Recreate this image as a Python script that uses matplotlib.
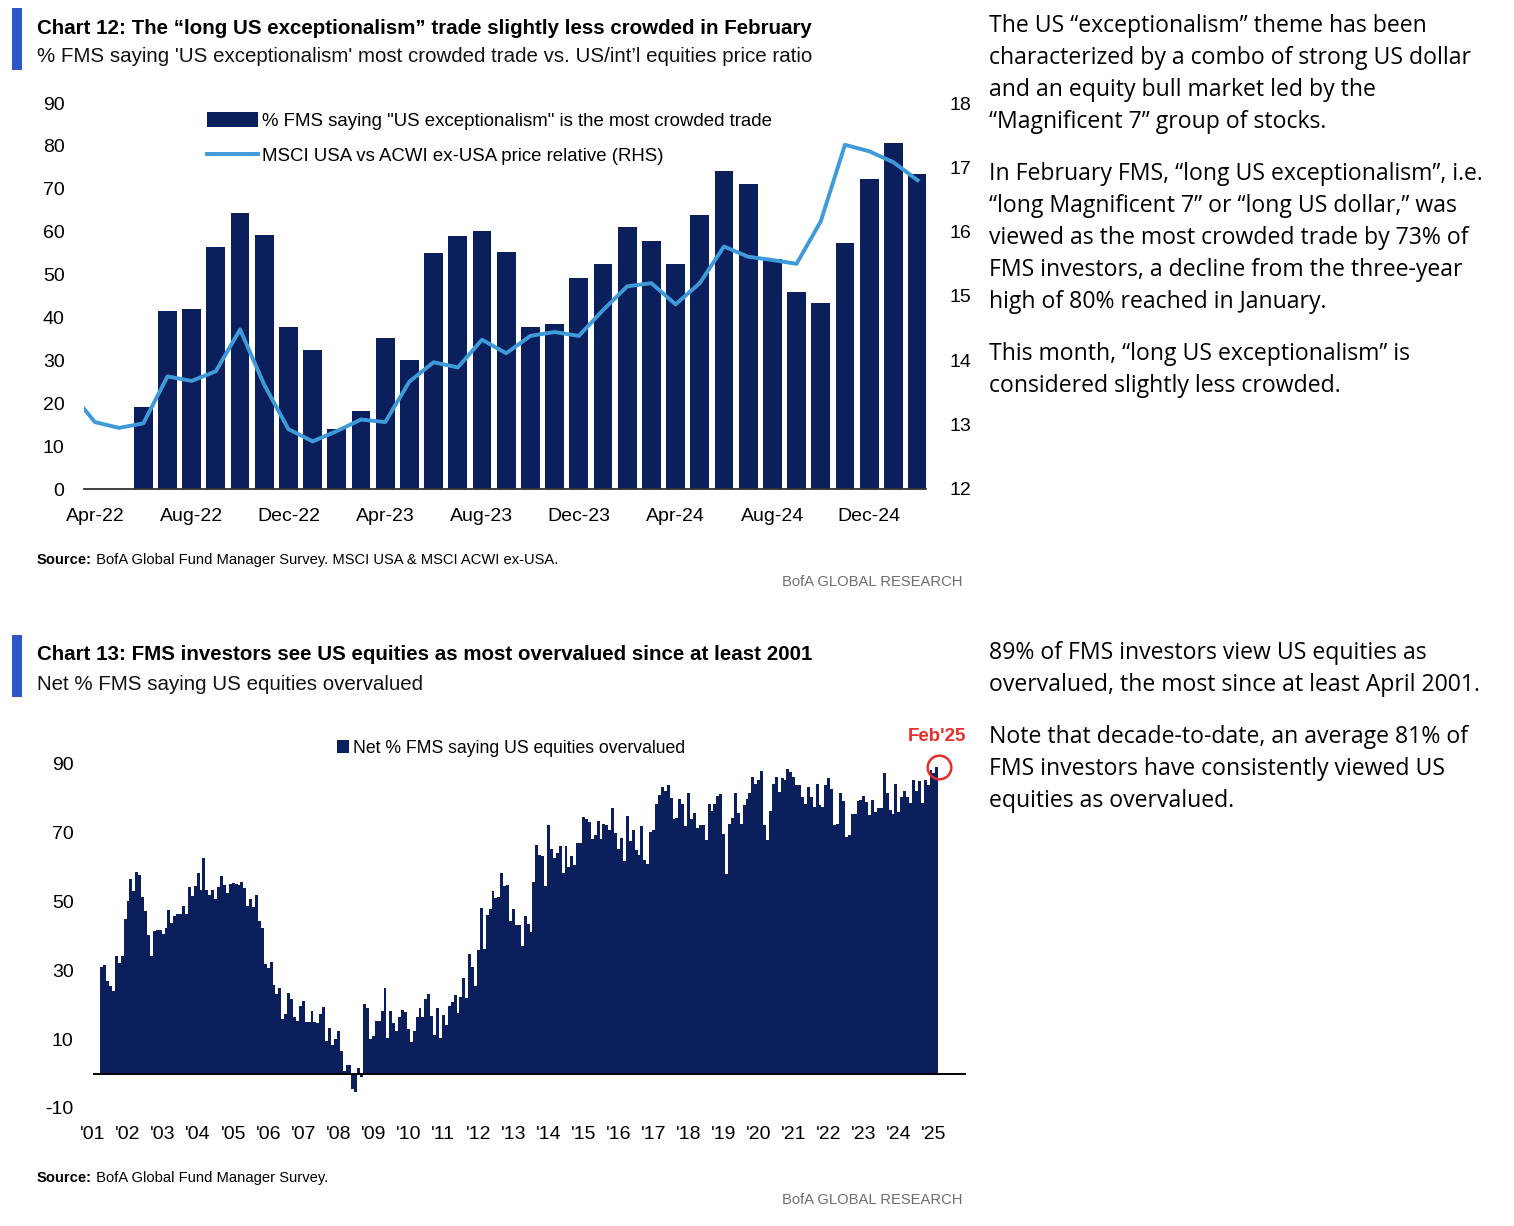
import numpy as np
import pandas as pd
import matplotlib
matplotlib.use('Agg')
import matplotlib.pyplot as plt

plt.rcParams['axes.unicode_minus'] = False

# ---------------- data: chart 12 ----------------
c12_bar_start = '2022-06'
c12_crowded = [19.1, 41.6, 41.9, 56.4, 64.3, 59.2, 37.7,
               32.4, 14.0, 18.2, 35.2, 30.1, 55.1, 58.9, 60.1, 55.3, 37.7, 38.5, 49.1,
               52.4, 61.1, 57.8, 52.5, 63.9, 74.2, 71.1, 53.7, 45.9, 43.4, 57.3, 72.3,
               80.6, 73.5]
c12_line_start = '2022-03'
c12_relative = [13.5, 13.04, 12.95, 13.02, 13.75, 13.68, 13.83, 14.48, 13.62, 12.93,
                12.74, 12.9, 13.08, 13.04, 13.67, 13.97, 13.89, 14.32, 14.11, 14.38, 14.44, 14.38,
                14.78, 15.15, 15.2, 14.87, 15.2, 15.77, 15.61, 15.56, 15.5, 16.16, 17.35, 17.25,
                17.08, 16.8]
c12_ticks = ['2022-04', '2022-08', '2022-12', '2023-04', '2023-08', '2023-12',
             '2024-04', '2024-08', '2024-12']

# ---------------- data: chart 13 ----------------
c13_start = '2001-04'
c13_overvalued = [
    31.0, 31.4, 27.0, 25.5, 24.0, 34.0, 32.0, 34.0, 45.0,
    50.0, 56.5, 53.0, 58.6, 57.7, 51.3, 47.2, 40.3, 34.2, 41.4, 41.7, 41.8,
    40.6, 42.1, 47.4, 43.7, 45.8, 46.4, 46.4, 48.5, 46.2, 54.2, 51.4, 54.4,
    58.3, 53.2, 62.6, 53.4, 51.7, 53.4, 50.8, 54.0, 57.2, 54.6, 52.5, 55.1,
    55.3, 55.1, 54.8, 55.7, 53.9, 48.6, 50.8, 48.4, 51.9, 44.2, 42.1, 31.7,
    30.5, 32.4, 25.8, 23.2, 24.7, 15.8, 17.2, 23.4, 21.6, 16.5, 15.2, 19.7,
    21.0, 15.0, 15.0, 18.2, 15.0, 14.7, 17.2, 19.2, 9.5, 13.3, 8.3, 9.9,
    12.4, 6.6, 0.8, 2.5, 2.6, -4.5, -5.5, 1.7, -1.1, 20.3, 19.1, 10.0,
    11.0, 15.2, 15.2, 18.1, 24.8, 10.2, 18.2, 14.7, 12.3, 16.5, 18.4, 17.9,
    12.8, 9.2, 12.3, 16.5, 18.9, 16.3, 21.6, 23.2, 16.7, 11.2, 18.9, 10.4,
    17.0, 14.0, 19.6, 20.8, 22.8, 17.5, 22.3, 27.8, 22.0, 34.6, 31.0, 25.5,
    35.8, 48.1, 36.1, 46.1, 47.7, 53.0, 51.0, 51.3, 58.3, 54.3, 54.6, 44.2,
    47.8, 43.0, 43.0, 37.1, 45.8, 43.5, 41.1, 55.6, 66.4, 63.3, 63.0, 54.3,
    72.1, 65.1, 62.7, 64.0, 66.0, 58.3, 66.0, 59.9, 63.2, 60.6, 66.9, 67.0,
    74.4, 73.8, 73.0, 68.0, 69.1, 73.4, 68.2, 72.5, 72.0, 70.8, 77.0, 69.8,
    65.3, 68.5, 61.6, 74.7, 67.4, 70.6, 64.8, 63.5, 71.9, 62.1, 60.9, 70.1,
    70.8, 78.3, 80.7, 83.1, 82.1, 83.8, 80.0, 73.8, 74.2, 79.8, 78.1, 71.8,
    81.4, 74.0, 75.7, 71.4, 72.0, 72.2, 67.9, 78.1, 76.1, 78.3, 80.5, 81.0,
    69.4, 57.8, 72.3, 74.3, 81.5, 75.7, 72.3, 77.8, 79.7, 81.4, 86.2, 84.1,
    85.3, 87.7, 72.0, 67.9, 76.1, 84.1, 86.2, 81.7, 85.8, 85.3, 88.3, 87.5,
    86.0, 83.8, 83.8, 80.4, 78.3, 83.3, 80.2, 77.5, 83.9, 77.8, 77.5, 83.8,
    85.8, 82.7, 72.0, 72.5, 81.4, 79.0, 68.6, 69.3, 75.4, 75.2, 79.0, 79.3,
    80.5, 78.8, 74.9, 79.3, 75.9, 77.1, 77.1, 87.2, 81.4, 76.6, 75.4, 84.1,
    75.9, 80.4, 82.0, 80.2, 78.5, 85.2, 82.1, 85.0, 78.6, 85.2, 83.8, 88.0,
    87.2, 89.0]
c13_years = list(range(2001, 2026))

# ---------------- text ----------------
c12_title = 'Chart 12: The \u201clong US exceptionalism\u201d trade slightly less crowded in February'
c12_sub = "% FMS saying 'US exceptionalism' most crowded trade vs. US/int\u2019l equities price ratio"
c12_bar_label = '% FMS saying "US exceptionalism" is the most crowded trade'
c12_line_label = 'MSCI USA vs ACWI ex-USA price relative (RHS)'
c12_source = ' BofA Global Fund Manager Survey. MSCI USA & MSCI ACWI ex-USA.'
c13_title = 'Chart 13: FMS investors see US equities as most overvalued since at least 2001'
c13_sub = 'Net % FMS saying US equities overvalued'
c13_label = 'Net % FMS saying US equities overvalued'
c13_source = ' BofA Global Fund Manager Survey.'

side12 = [
    'The US \u201cexceptionalism\u201d theme has been',
    'characterized by a combo of strong US dollar',
    'and an equity bull market led by the',
    '\u201cMagnificent 7\u201d group of stocks.',
    None,
    'In February FMS, \u201clong US exceptionalism\u201d, i.e.',
    '\u201clong Magnificent 7\u201d or \u201clong US dollar,\u201d was',
    'viewed as the most crowded trade by 73% of',
    'FMS investors, a decline from the three-year',
    'high of 80% reached in January.',
    None,
    'This month, \u201clong US exceptionalism\u201d is',
    'considered slightly less crowded.',
]
side13 = [
    '89% of FMS investors view US equities as',
    'overvalued, the most since at least April 2001.',
    None,
    'Note that decade-to-date, an average 81% of',
    'FMS investors have consistently viewed US',
    'equities as overvalued.',
]

NAVY = '#0b1f5c'
LBLUE = '#3f9ad9'
BLUE = '#2c55c6'
RED = '#e5302a'
HEAD = ['Liberation Sans', 'DejaVu Sans']
TICKF = ['Liberation Sans', 'DejaVu Sans']
BODY = ['Open Sans', 'DejaVu Sans']

W, H = 1514, 1226
fig = plt.figure(figsize=(W / 100, H / 100), dpi=100)
bg = fig.add_axes([0, 0, 1, 1], zorder=-5)
bg.set_xlim(0, W)
bg.set_ylim(H, 0)
bg.axis('off')


def month_pos(periods, origin):
    return (periods.year - origin.year) * 12 + (periods.month - origin.month)


def header(y0, title, sub):
    bg.add_patch(plt.Rectangle((12, y0), 10, 62, color=BLUE, lw=0))
    bg.text(37, y0 + 20, title, family=HEAD, weight='bold', fontsize=14.75, va='center', color='black')
    bg.text(37, y0 + 49, sub, family=HEAD, fontsize=14.8, va='center', color='#111111')


def footer(y_src, src):
    t = bg.text(37, y_src, 'Source:', family=HEAD, weight='bold', fontsize=10.6, va='center')
    bg.annotate(src, xy=(1, 0.5), xycoords=t, va='center', ha='left', family=HEAD, fontsize=10.6)
    bg.text(963, y_src + 22, 'BofA GLOBAL RESEARCH', family=HEAD, fontsize=10.6, va='center',
            ha='right', color='#6d6d6d')


def side_text(y0, lines):
    y = y0
    for ln in lines:
        if ln is None:
            y += 20
            continue
        bg.text(989, y, ln, family=BODY, fontsize=16.6, va='center', color='black')
        y += 32


# ---------------- chart 12 ----------------
header(8, c12_title, c12_sub)
origin12 = pd.Period('2022-04', freq='M')
bar_months = pd.period_range(c12_bar_start, periods=len(c12_crowded), freq='M')
line_months = pd.period_range(c12_line_start, periods=len(c12_relative), freq='M')
xb = month_pos(bar_months, origin12)
xl = month_pos(line_months, origin12)

ax1 = fig.add_axes([84 / W, 1 - 489 / H, (926 - 84) / W, (489 - 103) / H])
bars = ax1.bar(xb, c12_crowded, width=0.78, color=NAVY, lw=0, label=c12_bar_label)
ax1.set_ylim(0, 90)
ax1.set_yticks(range(0, 91, 10))
ax1.set_xlim(-0.45, 34.35)
tick_p = pd.PeriodIndex(c12_ticks, freq='M')
ax1.set_xticks(month_pos(tick_p, origin12))
ax1.set_xticklabels([p.strftime('%b-%y') for p in tick_p])
for s in ['top', 'left', 'right']:
    ax1.spines[s].set_visible(False)
ax1.spines['bottom'].set_color('#333333')
ax1.spines['bottom'].set_linewidth(1.3)
ax1.tick_params(axis='y', length=0, pad=14, labelsize=14)
ax1.tick_params(axis='x', length=0, pad=14, labelsize=14)

ax1r = ax1.twinx()
line, = ax1r.plot(xl, c12_relative, color=LBLUE, lw=2.8, label=c12_line_label)
ax1r.set_ylim(12, 18)
ax1r.set_yticks(range(12, 19))
for s in ax1r.spines.values():
    s.set_visible(False)
ax1r.tick_params(axis='y', length=0, pad=17, labelsize=14)
ax1r.set_xlim(-0.45, 34.35)

for a in (ax1, ax1r):
    for lab in a.get_xticklabels() + a.get_yticklabels():
        lab.set_family(TICKF)

ax1.legend([bars, line], [c12_bar_label, c12_line_label], loc='upper left',
           bbox_to_anchor=(207 / W, 1 - 112 / H), bbox_transform=fig.transFigure,
           frameon=False, handlelength=2.75, handleheight=0.85,
           handletextpad=0.2, labelspacing=0.95, borderpad=0, borderaxespad=0,
           prop={'family': TICKF, 'size': 13.4})

footer(560, c12_source)
side_text(26, side12)

# ---------------- chart 13 ----------------
header(635, c13_title, c13_sub)
origin13 = pd.Period('2001-01', freq='M')
months13 = pd.period_range(c13_start, periods=len(c13_overvalued), freq='M')
x13 = month_pos(months13, origin13)

ax2 = fig.add_axes([93 / W, 1 - 1108 / H, (966 - 93) / W, (1108 - 729) / H])
bars13 = ax2.bar(x13, c13_overvalued, width=1.0, color=NAVY, lw=0, label=c13_label)
ax2.axhline(0, color='black', lw=1.4)
ax2.set_ylim(-10, 100)
ax2.set_yticks([-10, 10, 30, 50, 70, 90])
ax2.set_xlim(0, 299)
ax2.set_xticks([(y - 2001) * 12 for y in c13_years])
ax2.set_xticklabels(["'%02d" % (y % 100) for y in c13_years])
for s in ax2.spines.values():
    s.set_visible(False)
ax2.tick_params(axis='y', length=0, pad=14, labelsize=14)
ax2.tick_params(axis='x', length=0, pad=13, labelsize=14)
for lab in ax2.get_xticklabels() + ax2.get_yticklabels():
    lab.set_family(TICKF)

ax2.legend([bars13], [c13_label], loc='upper left',
           bbox_to_anchor=(337 / W, 1 - 740 / H), bbox_transform=fig.transFigure,
           frameon=False, handlelength=0.7, handleheight=0.75, handletextpad=0.2,
           borderpad=0, borderaxespad=0, prop={'family': TICKF, 'size': 12.7})

ax2.plot(x13[-1] + 0.6, c13_overvalued[-1], 'o', ms=17, mfc='none', mec=RED, mew=1.8, clip_on=False)
ax2.annotate("Feb'25", xy=(x13[-1], c13_overvalued[-1]), xytext=(0, 22), textcoords='offset points',
             ha='center', va='center', color=RED, weight='bold', fontsize=13.5, family=TICKF,
             annotation_clip=False)

footer(1178, c13_source)
side_text(653, side13)

fig.savefig('out.png', dpi=100)
